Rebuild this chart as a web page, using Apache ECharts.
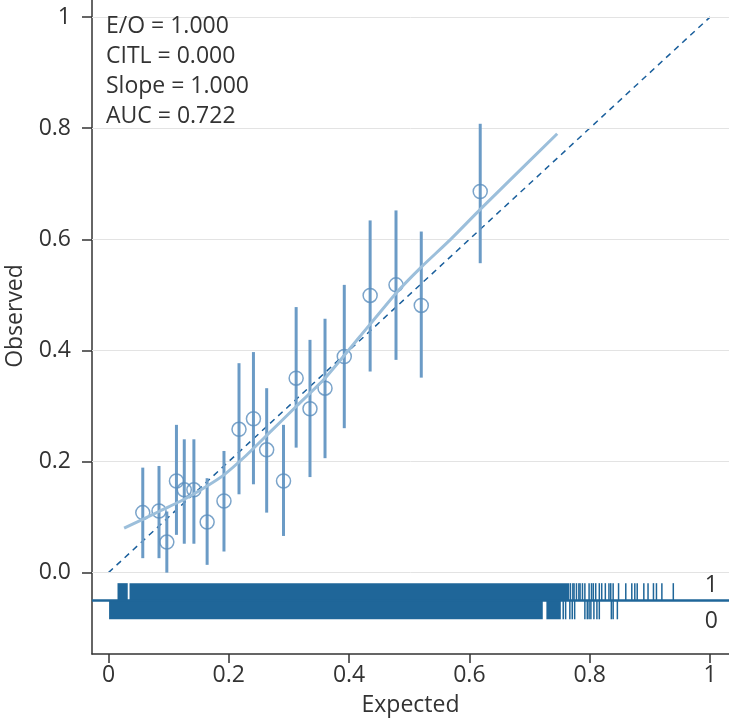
<!DOCTYPE html>
<html>
<head>
<meta charset="utf-8">
<script src="https://cdn.jsdelivr.net/npm/echarts@6/dist/echarts.min.js"></script>
<style>
html,body{margin:0;padding:0;background:#fff;}
#chart{width:729px;height:722px;}
</style>
</head>
<body>
<div id="chart"></div>
<script>
// ---- data ----
const xTicks = [0, 0.2, 0.4, 0.6, 0.8, 1];
const xTickLabels = ['0', '0.2', '0.4', '0.6', '0.8', '1'];
const yTicks = [0, 0.2, 0.4, 0.6, 0.8, 1];
const yTickLabels = ['0.0', '0.2', '0.4', '0.6', '0.8', '1'];

const binExpected = [0.057, 0.084, 0.097, 0.113, 0.126, 0.142, 0.164, 0.192, 0.217, 0.241, 0.263, 0.291, 0.312, 0.335, 0.360, 0.392, 0.435, 0.478, 0.520, 0.618];
const binObserved = [0.108, 0.111, 0.055, 0.165, 0.149, 0.149, 0.091, 0.129, 0.258, 0.277, 0.221, 0.165, 0.350, 0.295, 0.332, 0.389, 0.499, 0.518, 0.481, 0.686];
const binLower    = [0.026, 0.026, 0.000, 0.068, 0.052, 0.052, 0.014, 0.038, 0.141, 0.159, 0.108, 0.066, 0.225, 0.172, 0.206, 0.260, 0.362, 0.383, 0.351, 0.557];
const binUpper    = [0.189, 0.192, 0.110, 0.266, 0.240, 0.240, 0.170, 0.219, 0.377, 0.397, 0.332, 0.266, 0.478, 0.419, 0.457, 0.518, 0.634, 0.652, 0.614, 0.808];

const curveX = [0.026, 0.057, 0.084, 0.126, 0.164, 0.192, 0.227, 0.263, 0.312, 0.360, 0.418, 0.478, 0.520, 0.568, 0.618, 0.746];
const curveY = [0.080, 0.096, 0.110, 0.132, 0.156, 0.176, 0.209, 0.247, 0.299, 0.350, 0.425, 0.503, 0.550, 0.599, 0.654, 0.790];

const identityLine = [0, 1];

const statLabels = ['E/O = 1.000', 'CITL = 0.000', 'Slope = 1.000', 'AUC = 0.722'];

// rug: predicted risks of events (1) and non-events (0)
const rugOnesBlocks = [[0.015, 0.032], [0.035, 0.766]];
const rugOnesTicks = [0.768, 0.772, 0.774, 0.778, 0.782, 0.784, 0.788, 0.792, 0.799, 0.803, 0.806, 0.810, 0.816, 0.820, 0.826, 0.832, 0.835, 0.839, 0.848, 0.860, 0.870, 0.875, 0.879, 0.890, 0.897, 0.906, 0.911, 0.920, 0.939];
const rugZerosBlocks = [[0.001, 0.722], [0.728, 0.752]];
const rugZerosTicks = [0.756, 0.760, 0.767, 0.771, 0.775, 0.792, 0.796, 0.799, 0.802, 0.807, 0.812, 0.816, 0.836, 0.839, 0.846];
const rugRowLabels = ['1', '0'];

// ---- styles / layout ----
const FONT = 'Open Sans';
const FS = 23;
const TXT = '#333333';
const RUG_COLOR = '#1f6699';
const BAR_COLOR = '#6b9bc6';
const PT_COLOR = '#5a8dbd';
const CURVE_COLOR = '#9cbfdb';
const REF_COLOR = '#1a5f9c';
const RUG_LINE = -0.050, RUG_TOP = -0.019, RUG_BOTTOM = -0.084;
const X_MIN = -0.0274, X_MAX = 1.0316, Y_MIN = -0.1465, Y_MAX = 1.0308;

function labelFor(ticks, labels) {
  return function (v) {
    for (let i = 0; i < ticks.length; i++) if (Math.abs(ticks[i] - v) < 1e-9) return labels[i];
    return '';
  };
}

const chart = echarts.init(document.getElementById('chart'), null, {renderer: 'canvas'});

const errData = binExpected.map((x, i) => [x, binLower[i], binUpper[i]]);
const ptData = binExpected.map((x, i) => [x, binObserved[i]]);
const curveData = curveX.map((x, i) => [x, curveY[i]]);
const blockData = rugOnesBlocks.map(b => [b[0], b[1], 1]).concat(rugZerosBlocks.map(b => [b[0], b[1], 0]));
const tickData = rugOnesTicks.map(x => [x, 1]).concat(rugZerosTicks.map(x => [x, 0]));

const option = {
  animation: false,
  backgroundColor: '#ffffff',
  grid: {left: 92, right: 0, top: 0, bottom: 68, outerBoundsMode: 'none', containLabel: false},
  xAxis: {
    type: 'value', min: X_MIN, max: X_MAX,
    name: 'Expected', nameLocation: 'middle', nameGap: 40,
    nameTextStyle: {fontFamily: FONT, fontSize: FS, color: TXT},
    axisLine: {show: true, onZero: false, lineStyle: {color: TXT, width: 1.5}},
    axisTick: {show: true, customValues: xTicks, length: 9, lineStyle: {color: TXT, width: 1.5}},
    axisLabel: {customValues: xTicks, formatter: labelFor(xTicks, xTickLabels), margin: 10, fontFamily: FONT, fontSize: FS, color: TXT},
    splitLine: {show: false}
  },
  yAxis: {
    type: 'value', min: Y_MIN, max: Y_MAX,
    axisLine: {show: true, onZero: false, lineStyle: {color: TXT, width: 1.5}},
    axisTick: {show: true, customValues: yTicks, length: 10, lineStyle: {color: TXT, width: 1.5}},
    axisLabel: {customValues: yTicks, formatter: labelFor(yTicks, yTickLabels), margin: 21, fontFamily: FONT, fontSize: FS, color: TXT},
    splitLine: {show: false}
  },
  graphic: [
    ...statLabels.map((t, i) => ({
      type: 'text', left: 106, top: 15 + i * 30, z: 100,
      style: {text: t, fontFamily: FONT, fontSize: FS, fill: TXT}
    })),
    {type: 'text', z: 100, x: 718, y: 585, style: {text: rugRowLabels[0], fontFamily: FONT, fontSize: FS, fill: TXT, align: 'right', verticalAlign: 'middle'}},
    {type: 'text', z: 100, x: 718, y: 621, style: {text: rugRowLabels[1], fontFamily: FONT, fontSize: FS, fill: TXT, align: 'right', verticalAlign: 'middle'}},
    {type: 'text', z: 100, x: 15, y: 316, rotation: Math.PI / 2,
      style: {text: 'Observed', fontFamily: FONT, fontSize: FS, fill: TXT, align: 'center', verticalAlign: 'middle'}}
  ],
  series: [
    {
      name: 'grid', type: 'line', data: [], z: 0, silent: true,
      markLine: {
        silent: true, symbol: 'none', label: {show: false}, animation: false,
        lineStyle: {color: '#e3e3e3', width: 1, type: 'solid'},
        data: yTicks.map(v => ({yAxis: v}))
      }
    },
    {
      name: 'rugline', type: 'line', data: [], z: 3, silent: true,
      markLine: {
        silent: true, symbol: 'none', label: {show: false}, animation: false,
        lineStyle: {color: RUG_COLOR, width: 2.5, type: 'solid'},
        data: [{yAxis: RUG_LINE}]
      }
    },
    {
      name: 'rugBlocks', type: 'custom', z: 3, silent: true,
      data: blockData,
      encode: {x: [0, 1]},
      renderItem: function (params, api) {
        const x0 = api.value(0), x1 = api.value(1), row = api.value(2);
        const yEnd = row === 1 ? RUG_TOP : RUG_BOTTOM;
        const p0 = api.coord([x0, RUG_LINE]);
        const p1 = api.coord([x1, yEnd]);
        return {
          type: 'rect',
          shape: {x: p0[0], y: Math.min(p0[1], p1[1]), width: p1[0] - p0[0], height: Math.abs(p1[1] - p0[1])},
          style: {fill: RUG_COLOR}
        };
      }
    },
    {
      name: 'rugTicks', type: 'custom', z: 3, silent: true,
      data: tickData,
      encode: {x: 0},
      renderItem: function (params, api) {
        const x = api.value(0), row = api.value(1);
        const yEnd = row === 1 ? RUG_TOP : RUG_BOTTOM;
        const p0 = api.coord([x, RUG_LINE]);
        const p1 = api.coord([x, yEnd]);
        return {
          type: 'line',
          shape: {x1: p0[0], y1: p0[1], x2: p1[0], y2: p1[1]},
          style: {stroke: RUG_COLOR, lineWidth: 1.5}
        };
      }
    },
    {
      name: 'ideal', type: 'line', z: 4, silent: true, symbol: 'none',
      data: identityLine.map(v => [v, v]),
      lineStyle: {color: REF_COLOR, width: 1.5, type: [6, 5]}
    },
    {
      name: 'errorbars', type: 'custom', z: 5, silent: true,
      data: errData,
      encode: {x: 0, y: [1, 2]},
      renderItem: function (params, api) {
        const x = api.value(0);
        const p0 = api.coord([x, api.value(1)]);
        const p1 = api.coord([x, api.value(2)]);
        return {
          type: 'line',
          shape: {x1: p0[0], y1: p0[1], x2: p1[0], y2: p1[1]},
          style: {stroke: BAR_COLOR, lineWidth: 3}
        };
      }
    },
    {
      name: 'groups', type: 'scatter', z: 6, silent: true,
      data: ptData, symbol: 'circle', symbolSize: 14,
      itemStyle: {color: 'rgba(255,255,255,0)', borderColor: PT_COLOR, borderWidth: 1.5}
    },
    {
      name: 'flexible', type: 'line', z: 7, silent: true, symbol: 'none', smooth: 0.15,
      data: curveData,
      lineStyle: {color: CURVE_COLOR, width: 3}
    }
  ]
};
chart.setOption(option);
</script>
</body>
</html>
